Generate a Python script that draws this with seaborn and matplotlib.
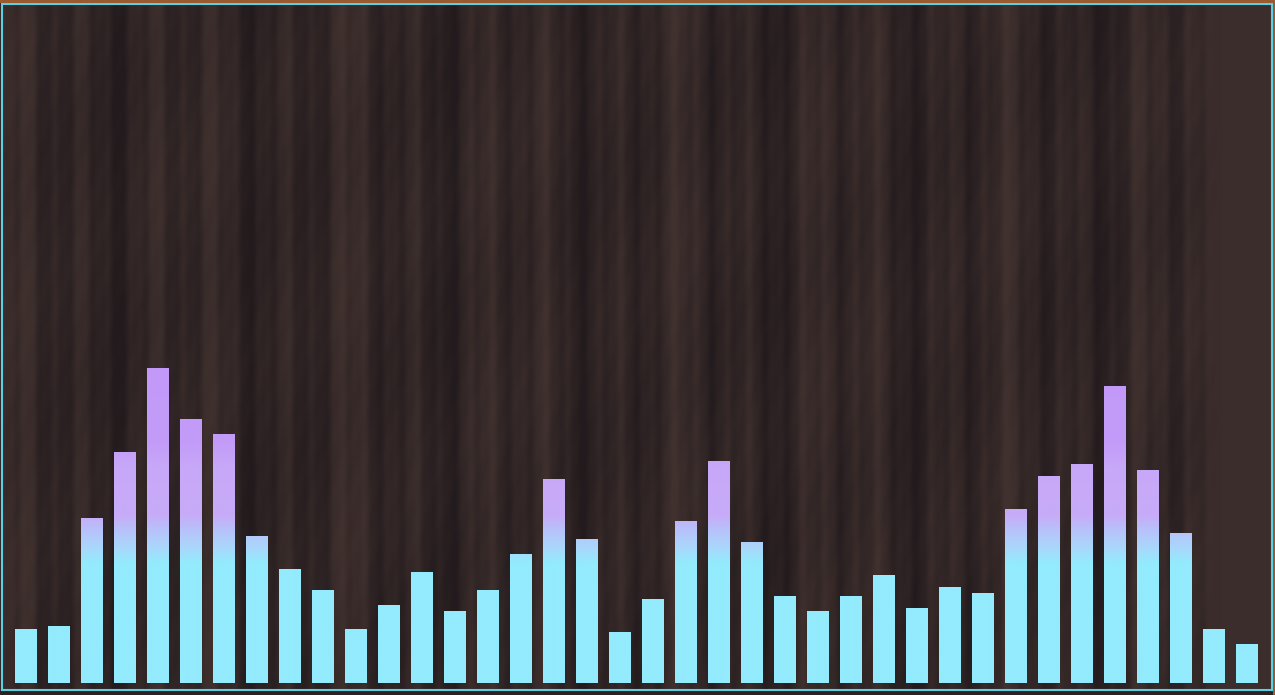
import numpy as np
import matplotlib
matplotlib.use("Agg")
import matplotlib.pyplot as plt
import seaborn as sns
import pandas as pd
from matplotlib.path import Path
from matplotlib.patches import Rectangle

# ---- data ----
categories = [f"B{i + 1}" for i in range(38)]
values = [18, 19, 55, 77, 105, 88, 83, 49, 38, 31, 18, 26, 37, 24, 31, 43, 68, 48, 17,
          28, 54, 74, 47, 29, 24, 29, 36, 25, 32, 30, 58, 69, 73, 99, 71, 50, 18, 13]

sns.set_theme(style="white")
fig = plt.figure(figsize=(12.75, 6.95), dpi=100, facecolor="#2e2220")

# outer wood strips
fig.patches.append(Rectangle((0, 1 - 3 / 695), 1, 3 / 695, transform=fig.transFigure,
                             facecolor="#9a5a30", edgecolor="none", zorder=0))
fig.patches.append(Rectangle((1273 / 1275, 0), 2 / 1275, 1, transform=fig.transFigure,
                             facecolor="#9a5a30", edgecolor="none", zorder=0))

ax = fig.add_axes([2 / 1275, 5 / 695, 1270 / 1275, 686 / 695])

df = pd.DataFrame({"cat": categories, "val": values})
sns.barplot(data=df, x="cat", y="val", ax=ax, width=22 / 33, color="#93EBFD",
            saturation=1, zorder=3)

x0, x1 = (2 - 26) / 33, (1272 - 26) / 33
y0, y1 = (683 - 690) / 3, (683 - 4) / 3
ax.set_xlim(x0, x1)
ax.set_ylim(y0, y1)

# ---- wood background texture (deterministic) ----
W, H = 1270, 686
xs = np.arange(W, dtype=float)
ys = np.arange(H, dtype=float)
t = (0.5 + 0.20 * np.sin(xs / 10.5) + 0.16 * np.sin(xs / 4.1 + 1.3)
     + 0.14 * np.sin(xs / 26.0 + 0.7) + 0.06 * np.sin(xs / 1.7 + 2.1))
T = t[None, :] + 0.06 * np.sin(ys[:, None] / 41.0 + xs[None, :] / 47.0) \
    + 0.04 * np.sin(ys[:, None] / 9.0 + xs[None, :] / 3.0)
T = np.clip(T, 0, 1)
dark = np.array([0x22, 0x1a, 0x1d]) / 255
light = np.array([0x40, 0x31, 0x2e]) / 255
img = dark[None, None, :] * (1 - T[..., None]) + light[None, None, :] * T[..., None]
flat = np.array([0x3b, 0x2d, 0x2b]) / 255
blend = np.clip((xs - 1195) / 25.0, 0, 1)
img = img * (1 - blend[None, :, None]) + flat[None, None, :] * blend[None, :, None]
ax.imshow(img, extent=[x0, x1, y0, y1], aspect="auto", origin="upper", zorder=0,
          interpolation="nearest")

# ---- vertical gradient clipped to the bars ----
paths = []
for p in ax.patches:
    paths.append(p.get_path().transformed(p.get_patch_transform()))
    p.set_visible(False)
clip = Path.make_compound_path(*paths)

gy = np.linspace(0, 110, 440)
stops = [0, 40, 44, 48, 52, 56, 72, 80, 110]
cols = np.array([[0x93, 0xEB, 0xFD], [0x93, 0xEB, 0xFD], [0xA6, 0xDB, 0xFC],
                 [0xB0, 0xCD, 0xFB], [0xBA, 0xBD, 0xFA], [0xC8, 0xAB, 0xF8],
                 [0xC7, 0xA8, 0xF8], [0xC3, 0x9C, 0xF8], [0xC2, 0x98, 0xF9]]) / 255
grad = np.stack([np.interp(gy, stops, cols[:, c]) for c in range(3)], axis=-1)
grad = grad[:, None, :]
gim = ax.imshow(grad, extent=[x0, x1, 0, 110], aspect="auto", origin="lower",
                zorder=3, interpolation="bilinear")
gim.set_clip_path(clip, ax.transData)
ax.set_xlim(x0, x1)
ax.set_ylim(y0, y1)

ax.set_xticks([])
ax.set_yticks([])
ax.set_xlabel("")
ax.set_ylabel("")
for s in ax.spines.values():
    s.set_visible(True)
    s.set_color("#5ccfe3")
    s.set_linewidth(1.5)
    s.set_zorder(5)

fig.savefig("out.png", dpi=100, facecolor=fig.get_facecolor())
